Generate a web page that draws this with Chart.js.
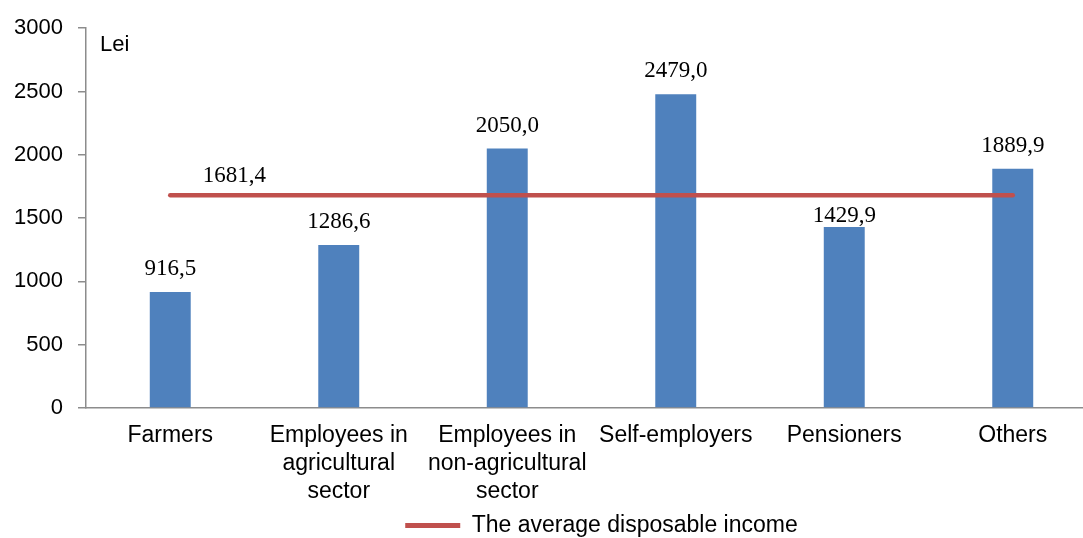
<!DOCTYPE html>
<html>
<head>
<meta charset="utf-8">
<script src="https://cdn.jsdelivr.net/npm/chart.js@4/dist/chart.umd.min.js"></script>
<style>
  html, body { margin: 0; padding: 0; background: #fff; overflow: hidden; }
  #wrap { position: relative; width: 1100px; height: 538px; }
</style>
</head>
<body>
<div id="wrap"><canvas id="c"></canvas></div>
<script>
const categories = [
  'Farmers',
  ['Employees in', 'agricultural', 'sector'],
  ['Employees in', 'non-agricultural', 'sector'],
  'Self-employers',
  'Pensioners',
  'Others'
];
const incomeValues = [916.5, 1286.6, 2050.0, 2479.0, 1429.9, 1889.9];
const averageValues = [1681.4, 1681.4, 1681.4, 1681.4, 1681.4, 1681.4];
const averageLabel = 'The average disposable income';
const yTicks = [0, 500, 1000, 1500, 2000, 2500, 3000];
const unitLabel = 'Lei';

const fmt = v => v.toFixed(1).replace('.', ',');

// label placement tweaks (style, not data)
const barLabelShift = { 4: { dx: 0, dy: 12 } };

const labelsPlugin = {
  id: 'valueLabels',
  afterDatasetsDraw(chart) {
    const ctx = chart.ctx;
    ctx.save();
    ctx.font = '23px "Liberation Serif", "Times New Roman", serif';
    ctx.fillStyle = '#000';
    ctx.textAlign = 'center';
    ctx.textBaseline = 'middle';
    const barMeta = chart.getDatasetMeta(0);
    barMeta.data.forEach((el, i) => {
      const s = barLabelShift[i] || { dx: 0, dy: 0 };
      ctx.fillText(fmt(incomeValues[i]), el.x + s.dx, el.y - 23 + s.dy);
    });
    const lineMeta = chart.getDatasetMeta(1);
    const p = lineMeta.data[0];
    ctx.fillText(fmt(averageValues[0]), p.x + 64, p.y - 19);
    // unit label
    ctx.font = '22px "Liberation Sans", Arial, sans-serif';
    ctx.textAlign = 'left';
    ctx.fillText(unitLabel, chart.chartArea.left + 14, chart.chartArea.top + 17);
    ctx.restore();
  }
};

const legendShift = {
  id: 'legendShift',
  afterLayout(chart) {
    const lg = chart.legend;
    if (lg) { lg.left += 53; lg.right += 53; lg.top += 9; lg.bottom += 9; }
  }
};

const sansFont = '"Liberation Sans", Arial, sans-serif';

new Chart(document.getElementById('c'), {
  data: {
    labels: categories,
    datasets: [
      {
        type: 'bar',
        label: 'Income',
        data: incomeValues,
        backgroundColor: '#4F81BD',
        borderWidth: 0,
        barPercentage: 0.243,
        categoryPercentage: 1,
        order: 2
      },
      {
        type: 'line',
        label: averageLabel,
        data: averageValues,
        borderColor: '#C0504D',
        backgroundColor: '#C0504D',
        borderWidth: 4.5,
        borderCapStyle: 'round',
        pointRadius: 0,
        tension: 0,
        order: 1
      }
    ]
  },
  options: {
    responsive: true,
    maintainAspectRatio: false,
    animation: false,
    layout: { padding: { top: 19, right: 3, left: 0, bottom: 0 } },
    scales: {
      x: {
        grid: { display: false, drawTicks: false },
        border: { display: true, color: '#8c8c8c', width: 1.5 },
        ticks: {
          color: '#000',
          font: { family: sansFont, size: 23, lineHeight: 1.22 },
          padding: 14,
          maxRotation: 0,
          autoSkip: false
        },
        afterFit(scale) { scale.height = 91; }
      },
      y: {
        min: 0,
        max: 3000,
        afterBuildTicks(scale) { scale.ticks = yTicks.map(v => ({ value: v })); },
        grid: { drawOnChartArea: false, drawTicks: true, tickLength: 8, color: '#8c8c8c', lineWidth: 1.5 },
        border: { display: true, color: '#8c8c8c', width: 1.5 },
        ticks: {
          color: '#000',
          font: { family: sansFont, size: 22 },
          padding: 15,
          callback: v => String(v)
        },
        afterFit(scale) { scale.width = 86; }
      }
    },
    plugins: {
      tooltip: { enabled: false },
      legend: {
        position: 'bottom',
        labels: {
          color: '#000',
          font: { family: sansFont, size: 23 },
          boxWidth: 55,
          boxHeight: 5,
          padding: 6,
          generateLabels(chart) {
            const ds = chart.data.datasets[1];
            return [{
              text: ds.label,
              fillStyle: ds.borderColor,
              strokeStyle: ds.borderColor,
              lineWidth: 0,
              hidden: false,
              datasetIndex: 1
            }];
          }
        }
      }
    }
  },
  plugins: [labelsPlugin, legendShift]
});
</script>
</body>
</html>
